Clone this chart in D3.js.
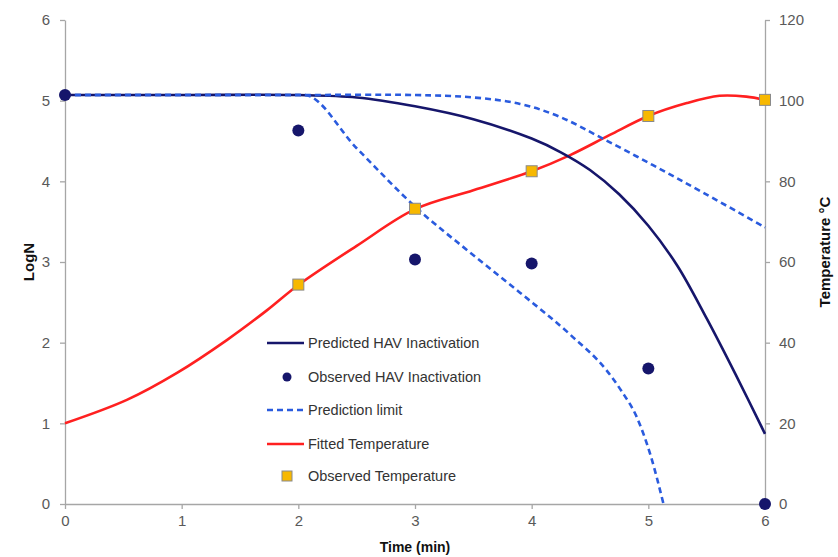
<!DOCTYPE html>
<html><head><meta charset="utf-8">
<script src="https://cdn.jsdelivr.net/npm/d3@7"></script>
<style>body{margin:0;background:#fff}svg{display:block}</style>
</head><body><svg id="c" width="838" height="557"></svg>
<script>
// Data
const timeTicks = [0,1,2,3,4,5,6];
const logTicks = [0,1,2,3,4,5,6];
const tempTicks = [0,20,40,60,80,100,120];

const predictedT = [0, 1, 2, 2.5, 3, 3.5, 4, 4.25, 4.5, 4.75, 5, 5.25, 5.5, 5.75, 6];
const predictedLogN = [5.07, 5.07, 5.07, 5.04, 4.93, 4.77, 4.53, 4.36, 4.14, 3.84, 3.45, 2.95, 2.3, 1.6, 0.87];

const observedT = [0, 2, 3, 4, 5, 6];
const observedLogN = [5.07, 4.63, 3.03, 2.98, 1.68, 0];

const upperT = [0, 1, 2, 3, 3.5, 3.9, 4.24, 4.61, 5.04, 5.47, 6];
const upperLogN = [5.07, 5.07, 5.07, 5.07, 5.04, 4.96, 4.8, 4.53, 4.2, 3.86, 3.43];

const lowerT = [0, 1, 2.05, 2.5, 3.02, 3.47, 3.9, 4.33, 4.64, 4.77, 4.9, 5.02, 5.13];
const lowerLogN = [5.07, 5.07, 5.07, 4.41, 3.66, 3.12, 2.62, 2.1, 1.66, 1.4, 1.08, 0.6, 0];

const fittedT = [0, 0.53, 0.96, 1.39, 1.73, 2, 2.5, 3, 3.5, 4, 4.33, 4.67, 5, 5.33, 5.61, 5.84, 6];
const fittedTemp = [20, 25.8, 32.5, 40.7, 48.0, 54.3, 64.0, 73.1, 77.8, 82.5, 86.5, 91.5, 96.2, 99.4, 101.2, 101, 100.2];

const obsTempT = [2, 3, 4, 5, 6];
const obsTemp = [54.4, 73.2, 82.5, 96.2, 100.2];

const legendLabels = ["Predicted HAV Inactivation","Observed HAV Inactivation","Prediction limit","Fitted Temperature","Observed Temperature"];

const svg = d3.select("#c");
const L = 65, R = 765, T = 20, B = 504;
const x = d3.scaleLinear().domain([0,6]).range([L,R]);
const y = d3.scaleLinear().domain([0,6]).range([B,T]);
const y2 = d3.scaleLinear().domain([0,120]).range([B,T]);

const axisColor = "#a6a6a6", tickText = "#595959";
const font = "Liberation Sans, Arial, sans-serif";

function styleAxis(g){
  g.selectAll("path,line").attr("stroke", axisColor).attr("stroke-width", 1.3);
  g.selectAll("text").attr("fill", tickText).style("font-family", font).style("font-size","15px");
}
svg.append("g").attr("transform",`translate(0,${B})`)
  .call(d3.axisBottom(x).tickValues(timeTicks).tickSize(5).tickSizeOuter(0).tickPadding(6).tickFormat(d3.format("d")))
  .call(styleAxis);
svg.append("g").attr("transform",`translate(${L},0)`)
  .call(d3.axisLeft(y).tickValues(logTicks).tickSize(5).tickSizeOuter(0).tickPadding(10).tickFormat(d3.format("d")))
  .call(styleAxis);
svg.append("g").attr("transform",`translate(${R},0)`)
  .call(d3.axisRight(y2).tickValues(tempTicks).tickSize(5).tickSizeOuter(0).tickPadding(9).tickFormat(d3.format("d")))
  .call(styleAxis);

// axis titles
svg.append("text").attr("transform",`translate(34,262) rotate(-90)`).attr("text-anchor","middle")
  .style("font-family",font).style("font-size","15px").style("font-weight","bold").attr("fill","#111").text("LogN");
svg.append("text").attr("transform",`translate(830,252) rotate(-90)`).attr("text-anchor","middle")
  .style("font-family",font).style("font-size","15px").style("font-weight","bold").attr("fill","#111").text("Temperature °C");
svg.append("text").attr("x",415).attr("y",552).attr("text-anchor","middle")
  .style("font-family",font).style("font-size","14px").style("font-weight","bold").attr("fill","#111").text("Time (min)");

const navy = "#16166b", blue = "#2a5bde", red = "#ff2020", gold = "#f7b800";

const smooth = d3.line().curve(d3.curveCatmullRom.alpha(0.5));
const mono = d3.line().curve(d3.curveMonotoneX);
function pts(xs, ys, sc){ return xs.map((t,i)=>[x(t), sc(ys[i])]); }

svg.append("path").attr("d", smooth(pts(fittedT, fittedTemp, y2))).attr("fill","none").attr("stroke",red).attr("stroke-width",2.6);
svg.append("path").attr("d", smooth(pts(predictedT, predictedLogN, y))).attr("fill","none").attr("stroke",navy).attr("stroke-width",2.6);
svg.append("path").attr("d", smooth(pts(upperT, upperLogN, y))).attr("fill","none").attr("stroke",blue).attr("stroke-width",2.6).attr("stroke-dasharray","6,4");
svg.append("path").attr("d", mono(pts(lowerT, lowerLogN, y))).attr("fill","none").attr("stroke",blue).attr("stroke-width",2.6).attr("stroke-dasharray","6,4");

svg.append("g").selectAll("circle").data(observedT).join("circle")
  .attr("cx",(d)=>x(d)).attr("cy",(d,i)=>y(observedLogN[i])).attr("r",6).attr("fill",navy);
svg.append("g").selectAll("rect").data(obsTempT).join("rect")
  .attr("x",(d)=>x(d)-5.5).attr("y",(d,i)=>y2(obsTemp[i])-5.5).attr("width",11).attr("height",11)
  .attr("fill",gold).attr("stroke","#8a8a8a").attr("stroke-width",1);

// legend
const lg = svg.append("g");
const rows = [343,377,410,444,476];
legendLabels.forEach((lab,i)=>{
  const yy = rows[i];
  if(i===0) lg.append("line").attr("x1",267).attr("x2",304).attr("y1",yy).attr("y2",yy).attr("stroke",navy).attr("stroke-width",2.6);
  if(i===1) lg.append("circle").attr("cx",287).attr("cy",yy).attr("r",4.5).attr("fill",navy);
  if(i===2) lg.append("line").attr("x1",267).attr("x2",304).attr("y1",yy).attr("y2",yy).attr("stroke",blue).attr("stroke-width",2.6).attr("stroke-dasharray","6,4");
  if(i===3) lg.append("line").attr("x1",267).attr("x2",304).attr("y1",yy).attr("y2",yy).attr("stroke",red).attr("stroke-width",2.6);
  if(i===4) lg.append("rect").attr("x",282).attr("y",yy-5).attr("width",10).attr("height",10).attr("fill",gold).attr("stroke","#8a8a8a");
  lg.append("text").attr("x",308).attr("y",yy).attr("dy","0.35em")
    .style("font-family",font).style("font-size","14.5px").attr("fill","#333").text(lab);
});
</script></body></html>
